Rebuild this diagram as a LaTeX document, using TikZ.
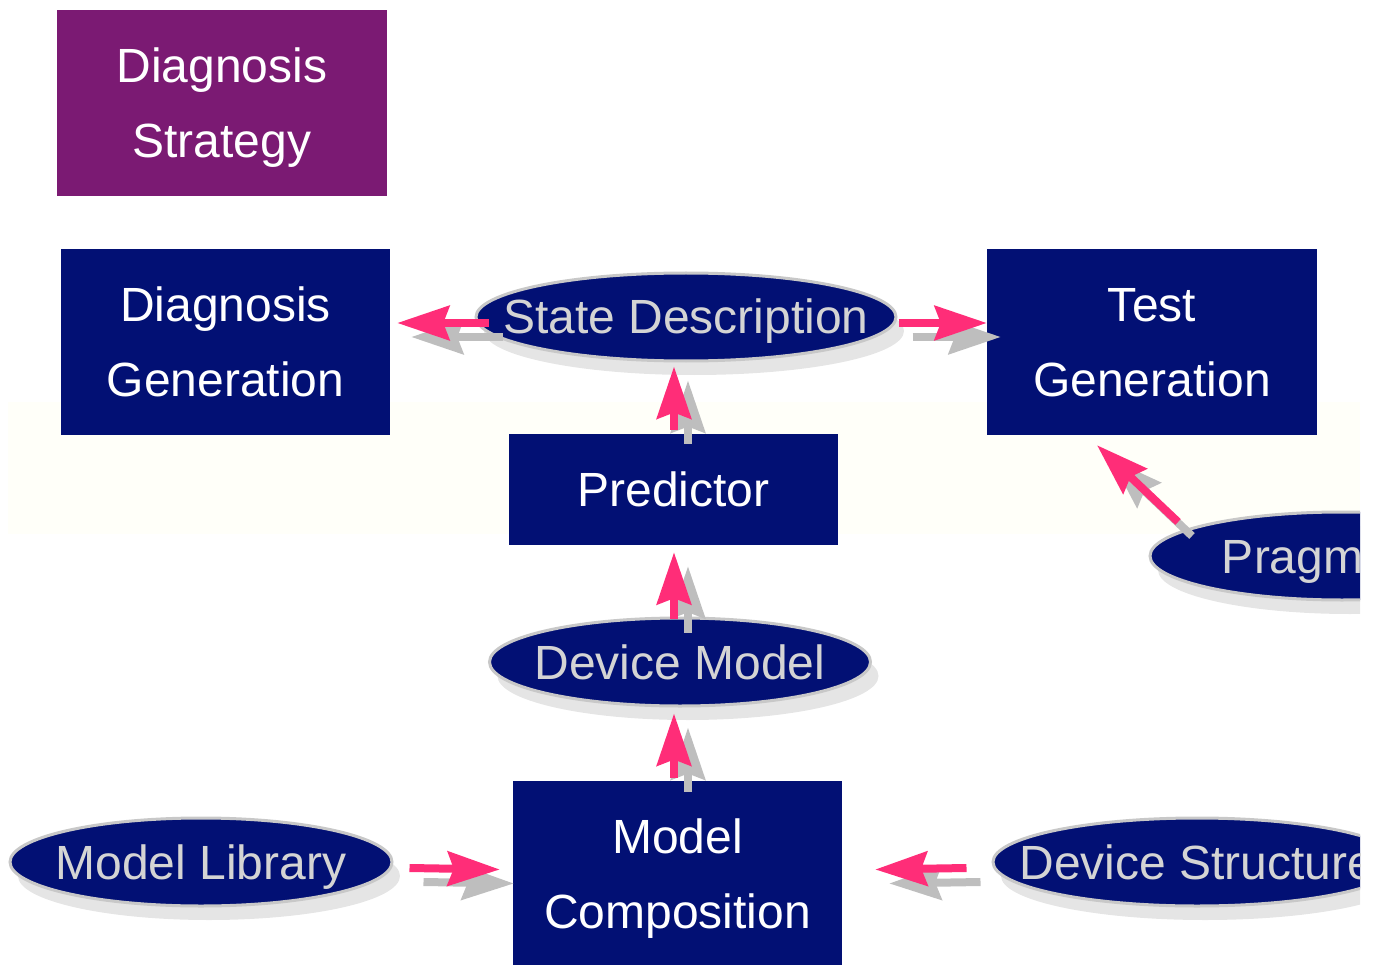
\documentclass[tikz,border=0pt]{standalone}
\usepackage{fontspec}
\setmainfont{Liberation Sans}
\usetikzlibrary{arrows.meta,shapes.geometric,shadows}

\definecolor{navy}{RGB}{2,16,116}
\definecolor{plum}{RGB}{123,26,115}
\definecolor{flowpink}{RGB}{255,45,120}
\definecolor{flowgray}{RGB}{190,190,190}
\definecolor{rimgray}{RGB}{200,200,200}
\definecolor{labelgray}{RGB}{212,212,212}
\definecolor{haze}{RGB}{255,255,249}

% a label that does not widen its ellipse; baseline sits 17pt below the centre
\newcommand\lbl[1]{\makebox[0pt][c]{\raisebox{-17pt}[0pt][0pt]{#1}}}

\tikzset{
  txt/.style={font=\fontsize{48}{75}\selectfont, align=center, inner sep=0pt},
  box/.style={txt, rectangle, fill=navy, text=white, text depth=0pt},
  stratbox/.style={box, fill=plum},
  datum/.style={txt, ellipse, fill=navy, draw=rimgray, line width=3pt,
    text=labelgray, minimum height=88pt,
    drop shadow={shadow xshift=8pt, shadow yshift=-14pt, fill=gray!20, opacity=1}},
  tipshape/.style={-{Stealth[length=52pt,width=34pt,inset=6pt]}},
  flow/.style={tipshape, draw=flowpink, line width=8pt},
  flowshade/.style={tipshape, draw=flowgray, line width=8pt,
    transform canvas={shift={(14pt,-14pt)}}},
}
\newcommand\flowarrow[2]{%
  \draw[flowshade] #1 -- #2;
  \draw[flow] #1 -- #2;}

\begin{document}
\begin{tikzpicture}[x=1pt,y=-1pt]
\useasboundingbox (0,0) rectangle (1375,965);
\begin{scope}
\clip (0,0) rectangle (1360,965);
\fill[haze] (8,402) rectangle (1360,534);

% process boxes
\node[stratbox, minimum width=330pt, minimum height=186pt] (ds) at (222,103) {Diagnosis\\Strategy};
\node[box, minimum width=329pt, minimum height=186pt] (dg) at (225.5,342) {Diagnosis\\Generation};
\node[box, minimum width=330pt, minimum height=186pt] (tg) at (1152,342) {Test\\Generation};
\node[box, minimum width=329pt, minimum height=111pt] (pr) at (673.5,489.5) {Predictor};
\node[box, minimum width=329pt, minimum height=186pt] (mc) at (677.5,874) {Model\\Composition};

% data stores
\node[datum, minimum width=420pt] (sd) at (686,317) {\lbl{State Description}};
\node[datum, minimum width=381pt] (dm) at (680,662) {\lbl{Device Model}};
\node[datum, minimum width=382pt] (ml) at (201,862) {\lbl{Model Library}};
\node[datum, minimum width=408pt] (dst) at (1197,862) {\lbl{Device Structure}};
\node[datum, minimum width=384pt] (pg) at (1342,556) {\lbl{Pragmatics}};

% data flows
\flowarrow{([shift={(14,6)}]sd.west)}{([shift={(7,-19)}]dg.east)}
\flowarrow{([shift={(1,6)}]sd.east)}{([shift={(0,-19)}]tg.west)}
\flowarrow{([shift={(0.5,-4)}]pr.north)}{([shift={(-12,4)}]sd.south)}
\flowarrow{([shift={(-6,2)}]dm.north)}{([shift={(0.5,7)}]pr.south)}
\flowarrow{([shift={(-3.5,-3)}]mc.north)}{([shift={(-6,6)}]dm.south)}
\flowarrow{([shift={(16,6)}]ml.east)}{([shift={(-13,-4.5)}]mc.west)}
\flowarrow{([shift={(-25,6)}]dst.west)}{([shift={(33,-4.5)}]mc.east)}
\flowarrow{([shift={(-164,-34)}]pg.center)}{([shift={(-55,10)}]tg.south)}
\end{scope}
\end{tikzpicture}
\end{document}
